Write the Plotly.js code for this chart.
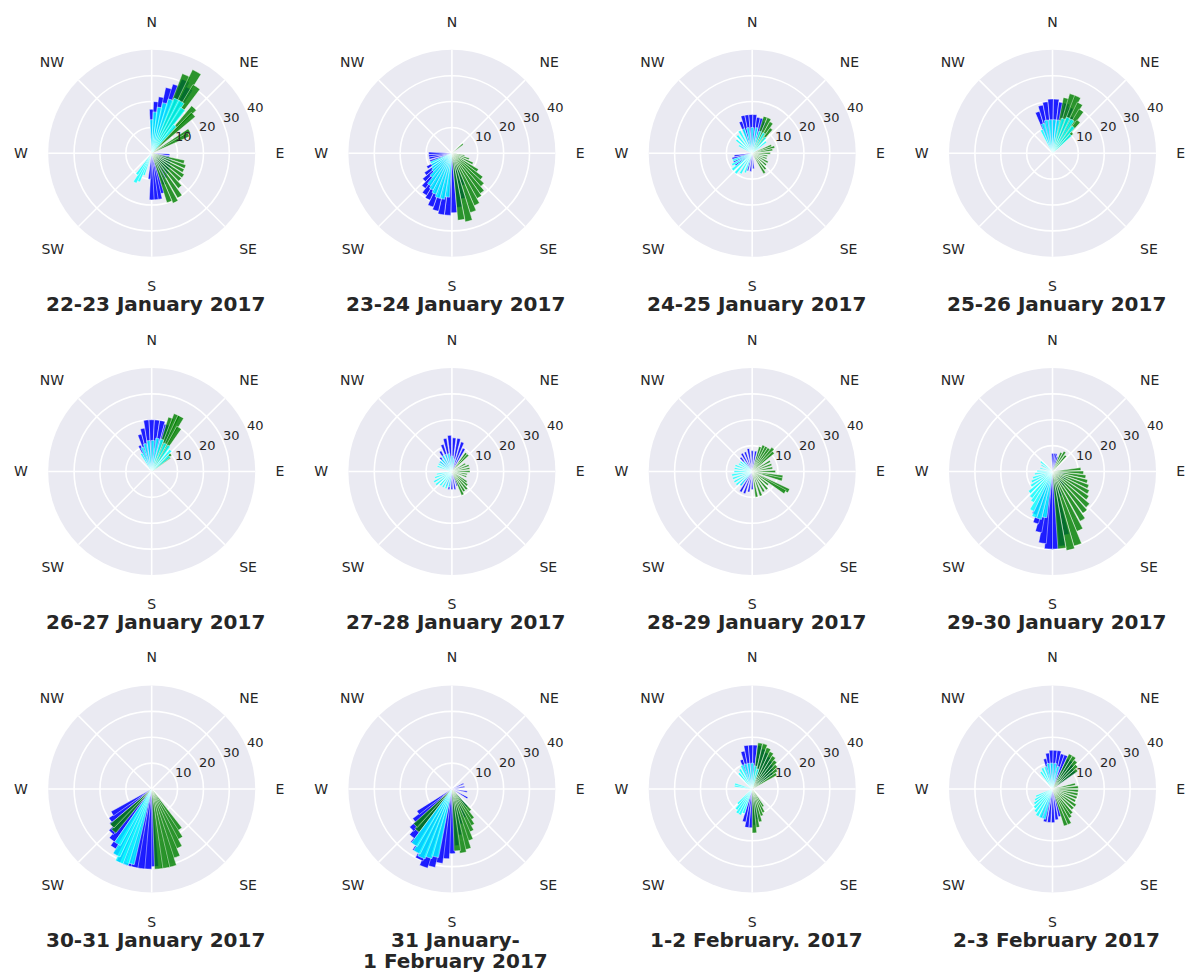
<!DOCTYPE html>
<html>
<head>
<meta charset="utf-8">
<script src="https://cdn.plot.ly/plotly-3.0.1.min.js"></script>
<style>html,body{margin:0;padding:0;background:#fff;}#chart{width:1192px;height:972px;}</style>
</head>
<body>
<div id="chart"></div>
<script>
// ---- panel titles ----
const titles = ["22-23 January 2017","23-24 January 2017","24-25 January 2017","25-26 January 2017",
  "26-27 January 2017","27-28 January 2017","28-29 January 2017","29-30 January 2017",
  "30-31 January 2017","31 January-\n1 February 2017","1-2 February. 2017","2-3 February 2017"];
const dirVals = [0,45,90,135,180,225,270,315];
const dirLabels = ["N","NE","E","SE","S","SW","W","NW"];
const radialTicks = [10,20,30,40];
const radialMax = 40;

// ---- panel 1: 22-23 January ----
const p1_blue_t = [0,5,10,15,20,25,30, 95,102,110,118,126,134,142,150,158,165,170,175,180,185];
const p1_blue_r = [17,20,22,26,28,31,29, 7,7,8,8,9,9,10,11,13,16,18,18,18,10];
const p1_cyan_t = [0,5,10,15,20,25,30,35,40, 200,205,210,215];
const p1_cyan_r = [13,16,18,20,22,23,23,21,14, 9,12,13,10];
const p1_green_t = [24,29,34, 43,47, 59,63, 105,112,119,126,133,140,147,154,160];
const p1_green_r = [33,36,31, 24,22, 17,16, 13,14,14,15,15,17,20,21,20];

// ---- panel 2: 23-24 January ----
const p2_blue_t = [160,166,172,178,184,190,196,202,208,214,220,226,232,240,250,258,264,270];
const p2_blue_r = [13,18,21,23,24,24,23,22,20,19,17,15,13,11,9,9,9,9];
const p2_cyan_t = [186,192,198,204,210,216,222,228,234,240,246];
const p2_cyan_r = [17,18,18,17,16,15,12,10,9.5,9,9];
const p2_green_t = [50, 100,108,116,124,130,136,142,148,154,160,166,172];
const p2_green_r = [5.5, 5,7,9,12,15,17,19,20,22,24,27,26];

// ---- panel 3: 24-25 January ----
const p3_blue_t = [340,346,352,358,4,10,16,22, 175,185,195, 235,245,255,262];
const p3_blue_r = [13,15,15,15,15,14,14,13, 6,7,7, 8,8,8,7];
const p3_cyan_t = [300,310,320,330,340,350,0,10,20,30,40,50, 200,210,220,230,240,250];
const p3_cyan_r = [6,8,9,10,10,10,10,10,9,9,8,7, 8,9,10,10,9,8];
const p3_green_t = [20,26,32,38, 68,74,80,90,100,110,120,130,140,148];
const p3_green_r = [15,15,14,12, 8,9,8,7,6,6,7,7,8,9];

// ---- panel 4: 25-26 January ----
const p4_blue_t = [340,346,352,358,4,10,16,22,28];
const p4_blue_r = [17,19,20,21,21,20,20,19,16];
const p4_cyan_t = [335,342,349,356,3,10,17,24,31,38,45];
const p4_cyan_r = [10,12,13,13,13,13,14,15,15,13,10];
const p4_green_t = [14,19,24,29,34,39,44];
const p4_green_r = [22,24,24,22,20,16,11];

// ---- panel 5: 26-27 January ----
const p5_blue_t = [335,342,348,354,0,6,12,18,24];
const p5_blue_r = [11,15,17,20,20,20,20,19,17];
const p5_cyan_t = [330,338,346,354,2,10,18,26,34,42,50];
const p5_cyan_r = [8,10,11,12,12,13,13,12,12,11,9];
const p5_green_t = [20,24,28,32, 48,52];
const p5_green_r = [22,24,24,20, 10,9];

// ---- panel 6: 27-28 January ----
const p6_blue_t = [310,320,330,340,348,356,4,12,20,28, 160,170,180,190,200];
const p6_blue_r = [6,7,9,11,13,14,13,13,12,10, 6,7,7,7,6];
const p6_cyan_t = [290,300,310,320,330,340,350,0,10, 190,200,210,220,230,240,250,260];
const p6_cyan_r = [6,6,6,6,7,7,7,6,5, 6,7,7,7,8,8,7,6];
const p6_green_t = [38,44, 60,70,80,90,100,110, 125,132,140,148,155];
const p6_green_r = [9,9, 6,7,7,7,6,6, 7,8,9,9,10];

// ---- panel 7: 28-29 January ----
const p7_blue_t = [320,330,340,350,0,10,20, 180,190,200,210,220];
const p7_blue_r = [7,8,8,9,8,8,7, 7,8,9,9,7];
const p7_cyan_t = [220,230,240,250,260,270,280,290,300,310,320];
const p7_cyan_r = [7,8,8,8,8,7,7,7,6,6,5];
const p7_green_t = [18,24,30,36,42,48, 60,70,80,90,100,105, 118,122, 130,140,150,160,170];
const p7_green_r = [10,11,11,11,12,11, 8,8,8,9,12,12, 16,15, 8,9,9,10,10];

// ---- panel 8: 29-30 January ----
const p8_blue_t = [0,6,12,18, 100,120,140,160, 168,173,178,183,188,193,198,203];
const p8_blue_r = [7,7,7,6, 5,6,7,10, 25,29,30,30,28,24,21,18];
const p8_cyan_t = [190,196,202,208,214,220,228,236,244,252,262,272,285,300,310];
const p8_cyan_r = [18,19,19,17,14,13,12,10,9,8,7,6,5,5,6];
const p8_green_t = [25,32,40, 85,92,99,106,113,120,127,134,141,148,155,161,167,173];
const p8_green_r = [8,9,8, 11,12,13,14,15,16,17,19,20,22,25,30,31,30];

// ---- panel 9: 30-31 January ----
const p9_blue_t = [178,183,188,193,198,203,208,213,218,223,228,233,238];
const p9_blue_r = [30,31,31,31,31,31,29,27,25,23,21,20,18];
const p9_cyan_t = [196,200,204,208,212];
const p9_cyan_r = [30,31,31,29,25];
const p9_green_t = [145,150,155,160,165,170,175, 222,227];
const p9_green_r = [19,22,25,28,31,31,31, 22,21];

// ---- panel 10: 31 January - 1 February ----
const p10_blue_t = [65,80,100,120,140,155,165,170,175,180,185,190,195,200,205,210,215,220,225,230,235];
const p10_blue_r = [5,5,6,7,9,12,14,18,22,25,27,29,31,32,30,28,26,24,22,19,16];
const p10_cyan_t = [194,199,204,209,214];
const p10_cyan_r = [27,28,29,28,26];
const p10_green_t = [140,145,150,155,160,165,170,175, 220,225];
const p10_green_r = [11,14,16,18,21,24,25,24, 21,20];

// ---- panel 11: 1-2 February ----
const p11_blue_t = [340,346,352,358,4,10,16,22,28,34,40,46,52, 170,176,182,188,194];
const p11_blue_r = [12,15,17,17,17,17,16,15,14,13,12,11,10, 12,14,15,15,13];
const p11_cyan_t = [320,328,336,344,352,0,8,16, 280,286, 200,206,212,218,224];
const p11_cyan_r = [8,9,10,10,10,10,9,8, 7,7, 10,11,11,10,8];
const p11_green_t = [10,16,22,28,34,40,46,52,58, 148,154,160,166,172,177];
const p11_green_r = [18,18,17,16,15,14,13,12,11, 8,10,11,13,15,17];

// ---- panel 12: 2-3 February ----
const p12_blue_t = [346,352,358,4,10,16,22,28,34,40,46,52, 165,172,179,186,193,200];
const p12_blue_r = [12,14,15,15,15,14,14,13,13,12,11,11, 11,12,13,13,13,12];
const p12_cyan_t = [326,334,342,350,358,6,14, 196,203,210,217,224,231,238,246];
const p12_cyan_r = [8,9,9,10,10,10,9, 12,12,12,11,10,9,8,7];
const p12_green_t = [28,34,40,46,52, 78,86,94,102,110,118,126,134,142,148,154,160];
const p12_green_r = [15,15,14,13,12, 9,10,10,10,10,10,11,11,12,13,15,15];

const panels = [
  [p1_blue_t,p1_blue_r,p1_cyan_t,p1_cyan_r,p1_green_t,p1_green_r],
  [p2_blue_t,p2_blue_r,p2_cyan_t,p2_cyan_r,p2_green_t,p2_green_r],
  [p3_blue_t,p3_blue_r,p3_cyan_t,p3_cyan_r,p3_green_t,p3_green_r],
  [p4_blue_t,p4_blue_r,p4_cyan_t,p4_cyan_r,p4_green_t,p4_green_r],
  [p5_blue_t,p5_blue_r,p5_cyan_t,p5_cyan_r,p5_green_t,p5_green_r],
  [p6_blue_t,p6_blue_r,p6_cyan_t,p6_cyan_r,p6_green_t,p6_green_r],
  [p7_blue_t,p7_blue_r,p7_cyan_t,p7_cyan_r,p7_green_t,p7_green_r],
  [p8_blue_t,p8_blue_r,p8_cyan_t,p8_cyan_r,p8_green_t,p8_green_r],
  [p9_blue_t,p9_blue_r,p9_cyan_t,p9_cyan_r,p9_green_t,p9_green_r],
  [p10_blue_t,p10_blue_r,p10_cyan_t,p10_cyan_r,p10_green_t,p10_green_r],
  [p11_blue_t,p11_blue_r,p11_cyan_t,p11_cyan_r,p11_green_t,p11_green_r],
  [p12_blue_t,p12_blue_r,p12_cyan_t,p12_cyan_r,p12_green_t,p12_green_r]
];

// ---- styling / geometry ----
const W = 1192, H = 972;
const colCenters = [151.7, 451.9, 752.2, 1052.5];
const rowCenters = [153.3, 471.5, 789.0];
const titleRows = [304, 622, 940];
const titleLineGap = 21;
const R = 103.5;
const colors = {blue:'rgba(0,0,255,0.88)', cyan:'rgba(0,255,255,0.8)', green:'rgba(0,128,0,0.82)'};
const FONT = 'DejaVu Sans, Liberation Sans, sans-serif';
const TXT = '#262626';

// radial tick labels placed like matplotlib: along the 22.5° line, slightly outward
const rlabelAngle = 22.5, rlabelOut = 3.75, rlabelUp = 1.2;
const rad = Math.PI / 180;
const pxPerUnit = R / radialMax;

const data = [];
const layout = {
  width: W, height: H,
  margin: {l:0, r:0, t:0, b:0},
  paper_bgcolor: '#ffffff',
  showlegend: false,
  annotations: []
};

panels.forEach((p, i) => {
  const sub = i === 0 ? 'polar' : 'polar' + (i + 1);
  const series = [[p[0], p[1], colors.blue], [p[4], p[5], colors.green], [p[2], p[3], colors.cyan]];
  series.forEach(s => {
    data.push({
      type: 'barpolar', subplot: sub,
      theta: s[0], r: s[1], width: 6,
      marker: {color: s[2], line: {color: 'rgba(255,255,255,0.8)', width: 0.6}},
      hoverinfo: 'skip'
    });
  });
  const col = i % 4, row = Math.floor(i / 4);
  const cx = colCenters[col], cy = rowCenters[row];
  layout[sub] = {
    domain: {x: [(cx - R) / W, (cx + R) / W], y: [1 - (cy + R) / H, 1 - (cy - R) / H]},
    bgcolor: '#EAEAF2',
    barmode: 'overlay',
    angularaxis: {
      direction: 'clockwise', rotation: 90,
      tickmode: 'array', tickvals: dirVals, ticktext: dirLabels,
      showline: false, showgrid: true, gridcolor: '#ffffff', gridwidth: 1.6,
      ticks: 'outside', ticklen: 17, tickcolor: 'rgba(0,0,0,0)',
      tickfont: {family: FONT, size: 14, color: TXT}
    },
    radialaxis: {
      range: [0, radialMax], tickmode: 'array', tickvals: radialTicks,
      showline: false, showgrid: true, gridcolor: '#ffffff', gridwidth: 1.6,
      showticklabels: false, ticks: '', angle: 22.5
    }
  };
  // radial tick labels
  radialTicks.forEach(v => {
    const ux = (v + rlabelOut) * Math.cos(rlabelAngle * rad) - rlabelUp * Math.sin(rlabelAngle * rad);
    const uy = (v + rlabelOut) * Math.sin(rlabelAngle * rad) + rlabelUp * Math.cos(rlabelAngle * rad);
    layout.annotations.push({
      xref: 'paper', yref: 'paper',
      x: (cx + ux * pxPerUnit) / W, y: 1 - (cy - uy * pxPerUnit) / H,
      xanchor: 'center', yanchor: 'middle', showarrow: false,
      text: String(v), font: {family: FONT, size: 13, color: TXT}
    });
  });
  const lines = titles[i].split('\n');
  lines.forEach((ln, k) => {
    layout.annotations.push({
      xref: 'paper', yref: 'paper',
      x: (cx + 4) / W, y: 1 - (titleRows[row] + k * titleLineGap) / H,
      xanchor: 'center', yanchor: 'middle', borderpad: 0,
      text: ln, showarrow: false,
      font: {family: FONT, size: 20, color: TXT, weight: 'bold'}
    });
  });
});

Plotly.newPlot('chart', data, layout, {staticPlot: true, displayModeBar: false});
</script>
</body>
</html>
